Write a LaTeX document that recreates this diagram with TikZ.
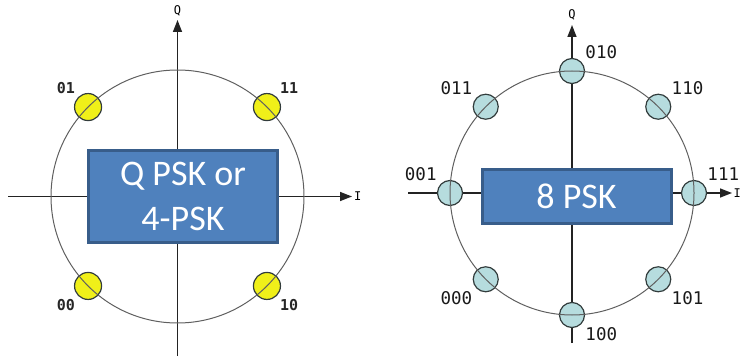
\documentclass[tikz,border=0pt]{standalone}
\usepackage{fontspec}
\setmainfont{Carlito}
\newfontfamily\bitfont{DejaVu Sans Mono}
\usetikzlibrary{arrows.meta, positioning, calc}
\definecolor{axisdark}{RGB}{35,35,35}
\definecolor{ringgray}{RGB}{95,95,95}
\definecolor{dotedge}{RGB}{50,60,60}
\definecolor{dotyellow}{RGB}{240,240,25}
\definecolor{dotcyan}{RGB}{182,220,222}
\definecolor{boxblue}{RGB}{79,129,189}
\definecolor{boxedge}{RGB}{56,93,138}
\tikzset{
  axis/.style={draw=axisdark, line width=1.5pt,
    -{Triangle[length=12pt, width=9pt]}},
  ring/.style={draw=ringgray, line width=1pt},
  qdot/.style={circle, draw=dotedge, fill=dotyellow, line width=1.2pt,
    minimum size=27pt, inner sep=0pt},
  edot/.style={qdot, fill=dotcyan, minimum size=25pt},
  axlbl/.style={font=\bitfont\fontsize{12}{12}\selectfont, inner sep=0pt},
  qbits/.style={font=\bitfont\bfseries\fontsize{15}{15}\selectfont,
    text=black!85, inner sep=0pt},
  ebits/.style={font=\bitfont\fontsize{17.5}{17.5}\selectfont,
    text=black!90, inner sep=0pt},
  namebox/.style={rectangle, draw=boxedge, fill=boxblue, line width=3pt,
    text=white, align=center, inner sep=0pt, minimum width=189pt,
    font=\fontsize{36}{45}\selectfont}
}
\begin{document}
\begin{tikzpicture}[x=1pt, y=1pt]
  \useasboundingbox (0,0) rectangle (741,359);

  % QPSK axes
  \coordinate (cL) at (177.5,162.5);
  \coordinate (qLs) at (177.5,3);
  \coordinate (qLe) at (177.5,339);
  \coordinate (iLs) at (8,162.5);
  \coordinate (iLe) at (352,162.5);
  \draw[axis] (qLs) -- (qLe);
  \draw[axis] (iLs) -- (iLe);
  \node[axlbl, above=4pt of qLe] (qL) {Q};
  \node[axlbl, right=2pt of iLe] (iL) {I};

  % QPSK points
  \foreach \a/\b/\p in {45/11/above right, 135/01/above left,
                        225/00/below left, 315/10/below right}{
    \node[qdot] (q\b) at ($(cL)+(\a:126.5)$) {};
    \node[qbits, \p=3pt and 3pt of q\b] (tq\b) {\b};
  }
  \draw[ring] (cL) circle[radius=126.5];
  \node[namebox, minimum height=92pt] (qpsk) at (183,162.5) {Q PSK or\\4-PSK};

  % 8PSK axes
  \coordinate (cR) at (572,166);
  \coordinate (qRs) at (572,16);
  \coordinate (qRe) at (572,334);
  \coordinate (iRs) at (408,166);
  \coordinate (iRe) at (732,166);
  \draw[axis] (qRs) -- (qRe);
  \draw[axis] (iRs) -- (iRe);
  \node[axlbl, above=5pt of qRe] (qR) {Q};
  \node[axlbl, right=1.5pt of iRe] (iR) {I};

  % 8PSK points
  \foreach \a/\b/\p in {0/111/above right, 45/110/above right,
                        90/010/above right, 135/011/above left,
                        180/001/above left, 225/000/below left,
                        270/100/below right, 315/101/below right}{
    \node[edot] (e\b) at ($(cR)+(\a:122)$) {};
    \node[ebits, \p=3pt and 4pt of e\b] (te\b) {\b};
  }
  \draw[ring] (cR) circle[radius=122];
  \node[namebox, minimum height=54pt] (epsk) at (576.5,162.5) {8 PSK};
\end{tikzpicture}
\end{document}
